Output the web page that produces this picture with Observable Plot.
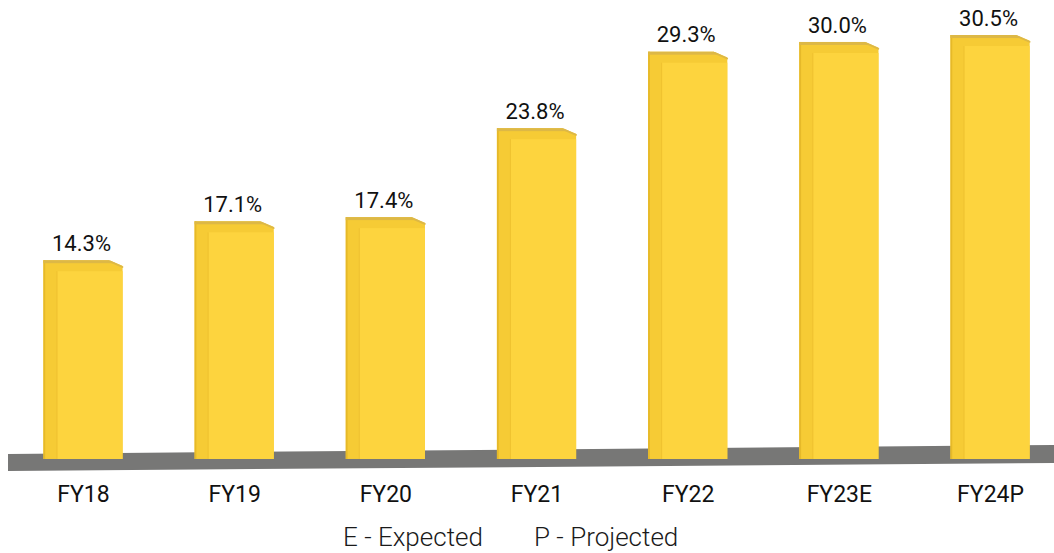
<!DOCTYPE html>
<html>
<head>
<meta charset="utf-8">
<script src="https://cdn.jsdelivr.net/npm/d3@7"></script>
<script src="https://cdn.jsdelivr.net/npm/@observablehq/plot@0.6"></script>
<style>
  html, body { margin: 0; padding: 0; background: #fff; }
  #wrap { width: 1054px; height: 553px; position: relative; overflow: hidden; font-family: Roboto, "Noto Sans", sans-serif; }
  #legend { position: relative; width: 1054px; height: 38px; }
  #legend span { position: absolute; top: 10px; font-size: 26px; line-height: 25px; font-weight: 300; color: #1a1a1a; white-space: nowrap; }
</style>
</head>
<body>
<div id="wrap">
  <div id="chart"></div>
  <div id="legend">
    <span style="left:343px">E - Expected</span>
    <span style="left:534px">P - Projected</span>
  </div>
</div>
<script>
const categories = ["FY18", "FY19", "FY20", "FY21", "FY22", "FY23E", "FY24P"];
const values = [14.3, 17.1, 17.4, 23.8, 29.3, 30.0, 30.5];

const data = categories.map((c, i) => ({ i, c, v: values[i] }));

// decorative slanted floor (in scale units)
const floor = [
  { x: -0.496, lo: -0.86, hi: 0.36 },
  { x: 6.423, lo: -0.29, hi: 1.01 }
];

const HW = 0.262; // bar half-width in x units
const chamfer = data.flatMap(d => [
  { i: d.i, x: d.i + HW - 0.088, top: d.v + 0.3, edge: d.v },
  { i: d.i, x: d.i + HW + 0.01, top: d.v + 0.3, edge: d.v - 0.45 }
]);
const chamferEdge = data.flatMap(d => [
  { i: d.i, x: d.i + HW - 0.088, y: d.v - 0.05 },
  { i: d.i, x: d.i + HW - 0.004, y: d.v - 0.45 }
]);

const bevel = "#F6CB35";
const front = "#FDD43E";
const topStrip = "#DDB846";

const plot = Plot.plot({
  width: 1054,
  height: 515,
  marginTop: 0, marginBottom: 0, marginLeft: 0, marginRight: 0,
  x: { type: "linear", domain: [-0.549, 6.423], axis: null },
  y: { domain: [-4.03, 33.02], axis: null },
  style: { fontFamily: "Roboto, 'Noto Sans', sans-serif", background: "#fff" },
  marks: [
    Plot.areaY(floor, { x: "x", y1: "lo", y2: "hi", fill: "#777776" }),
    // outer body (side bevel)
    Plot.rectY(data, { x1: d => d.i - HW, x2: d => d.i + HW, y1: () => 0, y2: "v", fill: bevel }),
    // dark left edge
    Plot.rectY(data, { x1: d => d.i - HW, x2: d => d.i - HW + 0.012, y1: () => 0, y2: "v", fill: "#E6B929" }),
    // front face
    Plot.rectY(data, { x1: d => d.i - HW, x2: d => d.i + HW, y1: () => 0, y2: "v", fill: front, insetLeft: 14, insetTop: 11 }),
    // inner shading line of bevel
    Plot.rectY(data, { x1: d => d.i - HW, x2: d => d.i - HW, y1: () => 0, y2: "v", fill: "#EFC231", insetLeft: 13, insetRight: -14, insetTop: 11 }),
    // top strip
    Plot.rectY(data, { x1: d => d.i - HW, x2: d => d.i + HW, y1: "v", y2: "v", fill: topStrip, insetBottom: -3 }),
    // chamfer at top-right corner
    Plot.areaY(chamfer, { x: "x", y1: "top", y2: "edge", z: "i", fill: "#fff" }),
    Plot.line(chamferEdge, { x: "x", y: "y", z: "i", stroke: topStrip, strokeWidth: 1.8 }),
    // value labels
    Plot.text(data, { x: "i", y: "v", text: d => d.v.toFixed(1) + "%", dy: -17, dx: -2, fontSize: 22, fill: "#111" }),
    // category labels
    Plot.text(data, { x: "i", y: () => -2.52, text: "c", fontSize: 23, fill: "#111" })
  ]
});
document.getElementById("chart").appendChild(plot);
</script>
</body>
</html>
